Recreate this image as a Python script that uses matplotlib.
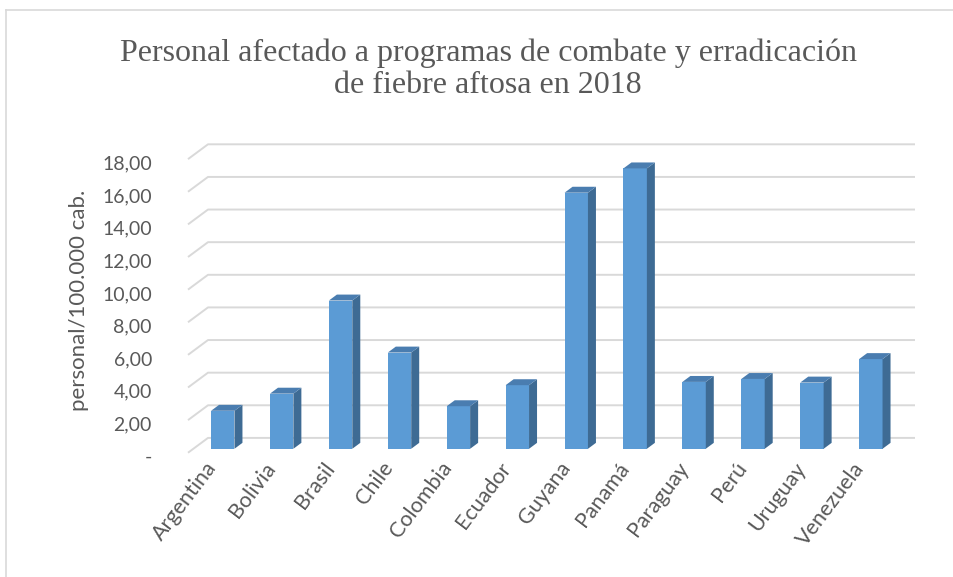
import matplotlib.pyplot as plt
from matplotlib.lines import Line2D
from matplotlib.patches import Polygon
from matplotlib.transforms import ScaledTranslation

countries = ['Argentina', 'Bolivia', 'Brasil', 'Chile', 'Colombia', 'Ecuador',
             'Guyana', 'Panamá', 'Paraguay', 'Perú', 'Uruguay', 'Venezuela']
values = [2.33, 3.38, 9.09, 5.90, 2.61, 3.90, 15.70, 17.19, 4.10, 4.28, 4.06, 5.50]
y_ticks = [0, 2, 4, 6, 8, 10, 12, 14, 16, 18]
y_labels = ['-', '2,00', '4,00', '6,00', '8,00', '10,00', '12,00', '14,00', '16,00', '18,00']

W, H = 954, 577
grey = '#595959'
grid_c = '#D9D9D9'
front_c = '#5B9BD5'
side_c = '#3E6B94'
top_c = '#4A7DB0'

# pixel geometry of the oblique 3D look
cat_px = 58.92
unit_px = 16.5
bar_w = 0.397
ddx, ddy = 8 / cat_px, 6 / unit_px          # bar depth
back_dx, back_dy = 14.7 / cat_px, 11 / unit_px  # bar plane -> back wall
front_dx, front_dy = 5.3 / cat_px, 4 / unit_px  # front plane -> bar plane

fig = plt.figure(figsize=(W / 100, H / 100), dpi=100)
left_px, right_px, top_px, bot_px = 188, 915, 144.3, 456
ax = fig.add_axes([left_px / W, 1 - bot_px / H, (right_px - left_px) / W, (bot_px - top_px) / H])
x0 = -0.5 - front_dx
x1 = 11.5 + back_dx
ax.set_xlim(x0, x1)
ax.set_ylim(-front_dy, 18 + back_dy)

for v in y_ticks:
    ax.plot([x0, -0.5 + back_dx, x1], [v - front_dy, v + back_dy, v + back_dy],
            color=grid_c, lw=1.4, zorder=1, clip_on=False, solid_capstyle='butt')

xs = list(range(len(countries)))
ax.bar(xs, values, width=bar_w, color=front_c, zorder=3, linewidth=0)
for x, v in zip(xs, values):
    r = x + bar_w / 2
    l = x - bar_w / 2
    ax.add_patch(Polygon([(r, 0), (r + ddx, ddy), (r + ddx, v + ddy), (r, v)],
                         closed=True, facecolor=side_c, edgecolor='none', zorder=3))
    ax.add_patch(Polygon([(l, v), (r, v), (r + ddx, v + ddy), (l + ddx, v + ddy)],
                         closed=True, facecolor=top_c, edgecolor='none', zorder=3))

for s in ax.spines.values():
    s.set_visible(False)

ax.set_yticks([v - front_dy - 0.2 for v in y_ticks])
ax.set_yticklabels(y_labels, fontsize=14, color=grey, family='Lato')
ax.tick_params(axis='y', length=0, pad=26)

ax.set_xticks(xs)
ax.set_xticklabels(countries, fontsize=15.5, color=grey, family='Lato',
                   rotation=53, ha='right', va='center', rotation_mode='anchor')
ax.tick_params(axis='x', length=0, pad=6)
for lab in ax.get_xticklabels():
    lab.set_transform(lab.get_transform() + ScaledTranslation(-0.1, 0, fig.dpi_scale_trans))

fig.text(79 / W, 1 - 300 / H, 'personal/100.000 cab.', rotation=90, fontsize=16,
         color=grey, family='Lato', ha='center', va='center')

fig.text(488 / W, 1 - 69 / H,
         'Personal afectado a programas de combate y erradicación\nde fiebre aftosa en 2018',
         fontsize=23, color=grey, family='Liberation Serif', ha='center', va='center',
         linespacing=1.15)

fig.add_artist(Line2D([6.5 / W, 6.5 / W], [0, 1 - 10 / H], color=grid_c, lw=1.2))
fig.add_artist(Line2D([6.5 / W, 1], [1 - 10 / H, 1 - 10 / H], color=grid_c, lw=1.2))

fig.savefig('out.png', dpi=100, facecolor='white')
